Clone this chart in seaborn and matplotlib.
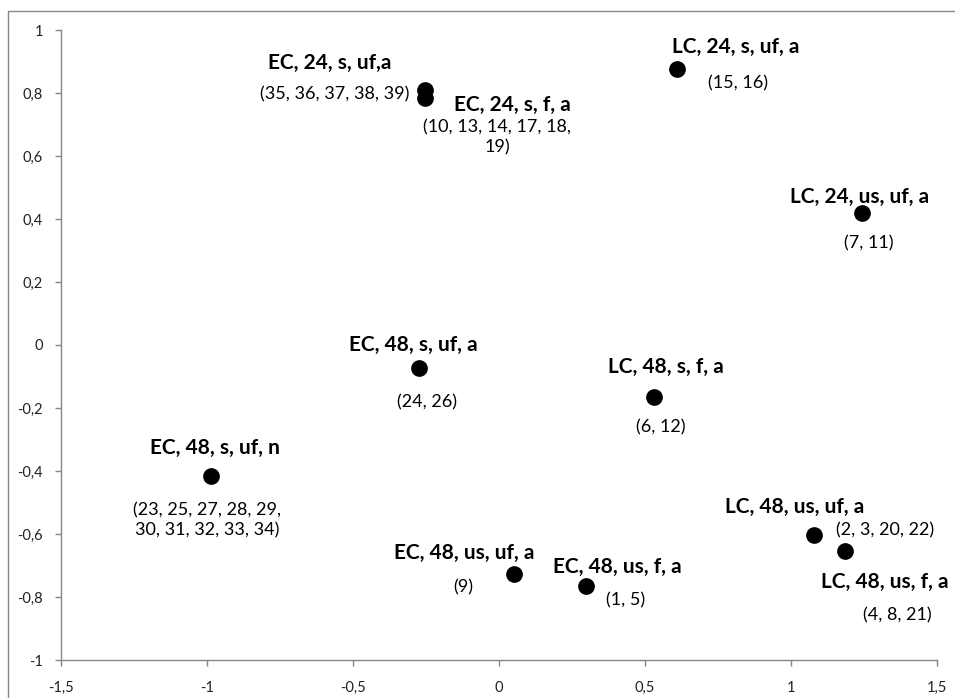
import pandas as pd
import matplotlib
matplotlib.use("Agg")
import matplotlib.pyplot as plt
from matplotlib.lines import Line2D
from matplotlib.ticker import FuncFormatter, MultipleLocator
import seaborn as sns

# group labels, coordinates and sample numbers
groups = ["EC, 24, s, uf,a", "EC, 24, s, f, a", "LC, 24, s, uf, a", "LC, 24, us, uf, a",
          "EC, 48, s, uf, a", "LC, 48, s, f, a", "EC, 48, s, uf, n", "EC, 48, us, uf, a",
          "EC, 48, us, f, a", "LC, 48, us, uf, a", "LC, 48, us, f, a"]
dim1 = [-0.253, -0.253, 0.61, 1.243, -0.274, 0.532, -0.985, 0.051, 0.298, 1.079, 1.185]
dim2 = [0.81, 0.784, 0.876, 0.419, -0.073, -0.165, -0.416, -0.727, -0.765, -0.603, -0.654]
samples = ["(35, 36, 37, 38, 39)", "(10, 13, 14, 17, 18,\n19)", "(15, 16)", "(7, 11)",
           "(24, 26)", "(6, 12)", "(23, 25, 27, 28, 29,\n30, 31, 32, 33, 34)", "(9)",
           "(1, 5)", "(2, 3, 20, 22)", "(4, 8, 21)"]

df = pd.DataFrame({"group": groups, "dim1": dim1, "dim2": dim2, "samples": samples})

# label offsets in pixels relative to each point (bold name, sample list)
name_off = [(-95, 27), (87, -7), (59, 22), (-2, 16), (-6, 23), (12, 30),
            (4, 28), (-50, 21), (31, 19), (-19, 28), (40, -31)]
num_off = [(-90, -5), (72, -39), (61, -14), (7, -30), (8, -34), (6, -30),
           (-4, -44), (-51, -13), (40, -14), (71, 5), (52, -64)]

sns.set_style("white")
plt.rcParams["font.family"] = ["Lato", "DejaVu Sans"]

fig = plt.figure(figsize=(9.55, 6.98), dpi=100)
ax = fig.add_axes([61 / 955, 1 - 660 / 698, (937 - 61) / 955, (660 - 30) / 698])

sns.scatterplot(data=df, x="dim1", y="dim2", color="black", s=145,
                edgecolor="black", linewidth=0, ax=ax, zorder=3)

px = 0.72  # points per pixel at 100 dpi
for i, row in df.iterrows():
    ax.annotate(row["group"], (row["dim1"], row["dim2"]),
                xytext=(name_off[i][0] * px, name_off[i][1] * px), textcoords="offset points",
                ha="center", va="center", fontsize=15, fontweight="bold", color="black")
    ax.annotate(row["samples"], (row["dim1"], row["dim2"]),
                xytext=(num_off[i][0] * px, num_off[i][1] * px), textcoords="offset points",
                ha="center", va="center", fontsize=13, color="black", linespacing=1.3)

ax.set_xlim(-1.5, 1.5)
ax.set_ylim(-1, 1)
ax.xaxis.set_major_locator(MultipleLocator(0.5))
ax.yaxis.set_major_locator(MultipleLocator(0.2))
fmt = FuncFormatter(lambda v, p: f"{round(v, 2):g}".replace(".", ","))
ax.xaxis.set_major_formatter(fmt)
ax.yaxis.set_major_formatter(fmt)
ax.set_xlabel("")
ax.set_ylabel("")

for side in ["top", "right"]:
    ax.spines[side].set_visible(False)
for side in ["left", "bottom"]:
    ax.spines[side].set_color("#868686")
    ax.spines[side].set_linewidth(1)
ax.tick_params(axis="both", direction="out", length=4, width=1, color="#868686",
               labelsize=10.5, labelcolor="#222222", left=True, bottom=True)
ax.tick_params(axis="x", pad=11)
ax.tick_params(axis="y", pad=9)

# chart area border (only top and left visible in the reference)
fig.add_artist(Line2D([8 / 955, 8 / 955], [0, 1 - 11 / 698], color="#868686", lw=1))
fig.add_artist(Line2D([8 / 955, 1], [1 - 11 / 698, 1 - 11 / 698], color="#868686", lw=1))

fig.savefig("out.png", dpi=100)
